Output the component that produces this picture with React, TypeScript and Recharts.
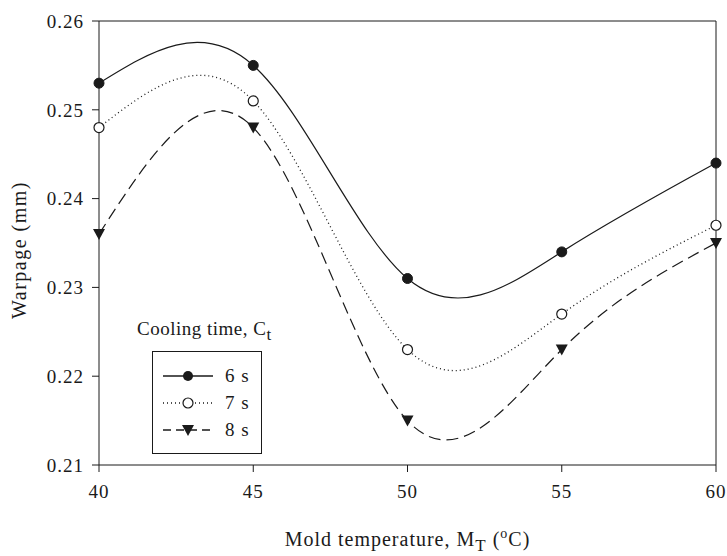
import React from 'react';
import { LineChart, Line, XAxis, YAxis, ReferenceLine, Legend, Label } from 'recharts';

const temps = [40, 45, 50, 55, 60];
const warp6s = [0.253, 0.255, 0.231, 0.234, 0.244];
const warp7s = [0.248, 0.251, 0.223, 0.227, 0.237];
const warp8s = [0.236, 0.248, 0.215, 0.223, 0.235];
const xTicks = [40, 45, 50, 55, 60];
const yTicks = [0.21, 0.22, 0.23, 0.24, 0.25, 0.26];
const seriesNames = ['6 s', '7 s', '8 s'];

const data = temps.map((t, i) => ({ temp: t, s6: warp6s[i], s7: warp7s[i], s8: warp8s[i] }));

const FONT = 'Liberation Serif, Tinos, "Nimbus Roman", "Times New Roman", Times, "DejaVu Serif", serif';
const INK = '#1a1a1a';

const DownTriangle = (props: any) => {
  const { cx, cy } = props;
  if (cx == null || cy == null) return null;
  return <path d={`M${cx - 6},${cy - 5} L${cx + 6},${cy - 5} L${cx},${cy + 6} Z`} fill={INK} />;
};

const XTitle = (props: any) => {
  const vb = props.viewBox || {};
  const cx = vb.x + vb.width / 2;
  const y = vb.y + 81;
  return (
    <text x={cx} y={y} textAnchor="middle" style={{ fontFamily: FONT, letterSpacing: 1 }} fontSize={20} fill={INK}>
      <tspan>Mold temperature, M</tspan>
      <tspan dy={5} fontSize={17}>T</tspan>
      <tspan dy={-5}> (</tspan>
      <tspan dy={-8} fontSize={14}>o</tspan>
      <tspan dy={8}>C)</tspan>
    </text>
  );
};

const YTitle = (props: any) => {
  const vb = props.viewBox || {};
  const cy = vb.y + vb.height / 2 + 7;
  const x = 26;
  return (
    <text x={x} y={cy} transform={`rotate(-90, ${x}, ${cy})`} textAnchor="middle" style={{ fontFamily: FONT, letterSpacing: 1.5 }} fontSize={20} fill={INK}>
      Warpage (mm)
    </text>
  );
};

const LegendBox = () => {
  const row = (i: number) => (
    <div key={i} style={{ display: 'flex', alignItems: 'center', height: 27 }}>
      <svg width={62} height={20}>
        {i === 0 && <line x1={10} x2={60} y1={10} y2={10} stroke={INK} strokeWidth={1.3} />}
        {i === 1 && <line x1={10} x2={60} y1={10} y2={10} stroke={INK} strokeWidth={1.3} strokeDasharray="1 3" />}
        {i === 2 && <line x1={10} x2={60} y1={10} y2={10} stroke={INK} strokeWidth={1.3} strokeDasharray="8 5" />}
        {i === 0 && <circle cx={35} cy={10} r={5} fill={INK} />}
        {i === 1 && <circle cx={35} cy={10} r={5} fill="#fff" stroke={INK} strokeWidth={1.2} />}
        {i === 2 && <path d="M29,5 L41,5 L35,16 Z" fill={INK} />}
      </svg>
      <span style={{ marginLeft: 10, fontSize: 19, letterSpacing: 1 }}>{seriesNames[i]}</span>
    </div>
  );
  return (
    <div style={{ fontFamily: FONT, color: INK }}>
      <div style={{ fontSize: 19, marginBottom: 6, whiteSpace: 'nowrap', letterSpacing: 0.5 }}>
        Cooling time, C<sub style={{ fontSize: 17, verticalAlign: '-5px' }}>t</sub>
      </div>
      <div style={{ marginLeft: 15, width: 108, border: `1px solid ${INK}`, padding: '10px 0 10px 0' }}>
        {[0, 1, 2].map(row)}
      </div>
    </div>
  );
};

export default function App() {
  return (
    <div style={{ position: 'absolute', left: 0, top: 0, width: 727, height: 556, background: '#fff', fontFamily: FONT }}>
      <LineChart width={727} height={556} data={data} margin={{ top: 21, right: 11, left: 0, bottom: 0 }} style={{ fontFamily: FONT }}>
        <XAxis
          dataKey="temp"
          type="number"
          domain={[40, 60]}
          ticks={xTicks}
          height={91}
          tickSize={7}
          tickMargin={13}
          stroke={INK}
          tick={{ fontSize: 19, fill: INK, style: { fontFamily: FONT, letterSpacing: 1 } }}
        >
          <Label content={<XTitle />} />
        </XAxis>
        <YAxis
          type="number"
          domain={[0.21, 0.26]}
          ticks={yTicks}
          width={99}
          tickSize={7}
          tickMargin={8}
          stroke={INK}
          tickFormatter={(v: number) => v.toFixed(2)}
          tick={{ fontSize: 19, fill: INK, style: { fontFamily: FONT, letterSpacing: 1 } }}
        >
          <Label content={<YTitle />} />
        </YAxis>
        <ReferenceLine y={0.26} stroke={INK} strokeWidth={1} />
        <ReferenceLine x={60} stroke={INK} strokeWidth={1} />
        <Legend
          layout="horizontal"
          verticalAlign="middle"
          align="center"
          content={<LegendBox />}
          wrapperStyle={{ position: 'absolute', left: 137, top: 318, width: 200 }}
        />
        <Line
          type="natural"
          dataKey="s6"
          name="6 s"
          stroke={INK}
          strokeWidth={1.2}
          dot={{ r: 5, fill: INK, stroke: INK, strokeWidth: 1 }}
          isAnimationActive={false}
        />
        <Line
          type="natural"
          dataKey="s7"
          name="7 s"
          stroke={INK}
          strokeWidth={1.3}
          strokeDasharray="1 3"
          dot={{ r: 5, fill: '#fff', stroke: INK, strokeWidth: 1.2, strokeDasharray: '' }}
          isAnimationActive={false}
        />
        <Line
          type="natural"
          dataKey="s8"
          name="8 s"
          stroke={INK}
          strokeWidth={1.2}
          strokeDasharray="12 6"
          dot={<DownTriangle />}
          isAnimationActive={false}
        />
      </LineChart>
    </div>
  );
}
